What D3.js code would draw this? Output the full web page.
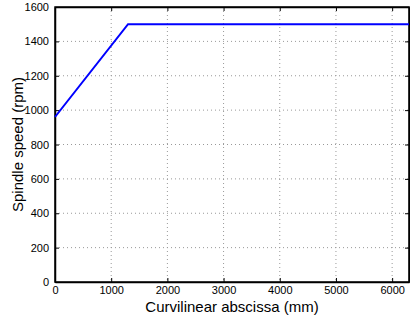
<!DOCTYPE html>
<html>
<head>
<meta charset="utf-8">
<script src="https://cdn.jsdelivr.net/npm/d3@7"></script>
<style>
  body { margin: 0; background: #fff; }
  svg { display: block; font-family: "Liberation Sans", Arial, sans-serif; }
  .grid line { stroke: #999; stroke-dasharray: 1,3; }
</style>
</head>
<body>
<div id="chart"></div>
<script>
// data
var abscissa = [0, 1300, 6300];
var speed = [960, 1500, 1500];
var xTicks = [0, 1000, 2000, 3000, 4000, 5000, 6000];
var yTicks = [0, 200, 400, 600, 800, 1000, 1200, 1400, 1600];

var width = 410, height = 318;
var margin = {top: 7, right: 1, bottom: 36, left: 55};
var w = width - margin.left - margin.right;
var h = height - margin.top - margin.bottom;

var svg = d3.select("#chart").append("svg")
  .attr("width", width)
  .attr("height", height);

var g = svg.append("g")
  .attr("transform", "translate(" + margin.left + "," + margin.top + ")");

var x = d3.scaleLinear().domain([0, 6300]).range([0, w]);
var y = d3.scaleLinear().domain([0, 1600]).range([h, 0]);

// grid
g.append("g").attr("class", "grid")
  .selectAll("line").data(xTicks.slice(1)).enter().append("line")
  .attr("x1", x).attr("x2", x).attr("y1", 0).attr("y2", h);
g.append("g").attr("class", "grid")
  .selectAll("line").data(yTicks.slice(1, -1)).enter().append("line")
  .attr("y1", y).attr("y2", y).attr("x1", 0).attr("x2", w);

// axes, ticks pointing inward
var fmt = d3.format("d");
var xAxis = d3.axisBottom(x).tickValues(xTicks).tickFormat(fmt).tickSizeInner(-4).tickSizeOuter(0).tickPadding(4);
var yAxis = d3.axisLeft(y).tickValues(yTicks).tickFormat(fmt).tickSizeInner(-4).tickSizeOuter(0).tickPadding(6);

var gx = g.append("g").attr("transform", "translate(0," + h + ")").call(xAxis);
var gy = g.append("g").call(yAxis);
g.append("g").call(d3.axisTop(x).tickValues(xTicks).tickSizeInner(-4).tickSizeOuter(0).tickFormat(""));
g.append("g").attr("transform", "translate(" + w + ",0)")
  .call(d3.axisRight(y).tickValues(yTicks).tickSizeInner(-4).tickSizeOuter(0).tickFormat(""));

svg.selectAll(".domain").attr("stroke", "#000").attr("stroke-width", 1.5);
svg.selectAll(".tick text").attr("font-size", 11).attr("fill", "#000")
  .attr("font-family", "Liberation Sans, Arial, sans-serif");

// frame
g.append("rect").attr("width", w).attr("height", h)
  .attr("fill", "none").attr("stroke", "#000").attr("stroke-width", 1.5);

// line
var line = d3.line()
  .x(function(d, i) { return x(abscissa[i]); })
  .y(function(d) { return y(d); });
g.append("path").datum(speed)
  .attr("d", line)
  .attr("fill", "none")
  .attr("stroke", "#0000ff")
  .attr("stroke-width", 2);

// labels
svg.append("text")
  .attr("x", margin.left + w / 2).attr("y", 312)
  .attr("text-anchor", "middle").attr("font-size", 15)
  .text("Curvilinear abscissa (mm)");
svg.append("text")
  .attr("transform", "translate(23," + (margin.top + h / 2) + ") rotate(-90)")
  .attr("text-anchor", "middle").attr("font-size", 15)
  .text("Spindle speed (rpm)");
</script>
</body>
</html>
